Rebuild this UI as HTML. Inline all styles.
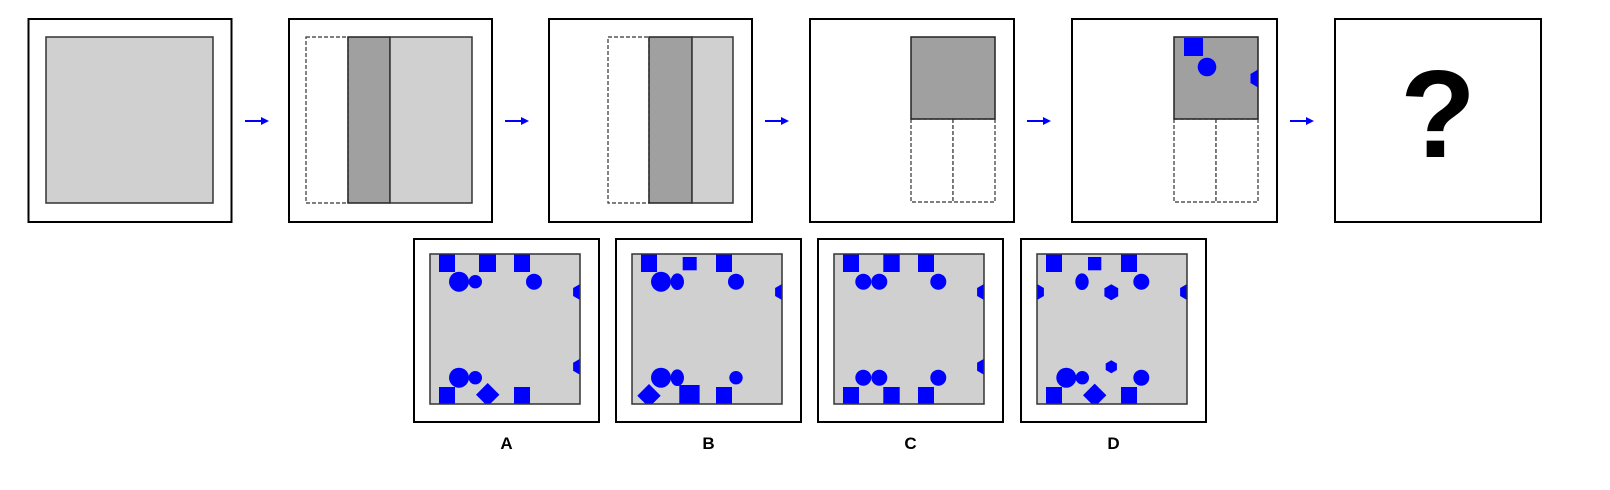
<!DOCTYPE html>
<html><head><meta charset="utf-8"><style>
html,body{margin:0;padding:0;background:#fff;}
svg{display:block;}
text{font-family:"Liberation Sans",sans-serif;font-weight:bold;}
</style></head><body>
<svg width="1610" height="490" viewBox="0 0 1610 490">
<defs>
<clipPath id="ci"><rect x="0" y="0" width="150" height="150"/></clipPath>
<marker id="ah" markerWidth="4" markerHeight="4" refX="2" refY="2" orient="auto"><path d="M0,0 L4,2 L0,4z" fill="#00f"/></marker>
</defs>
<g stroke-width="2">
<!-- panel 1 -->
<g>
<rect x="28.5" y="19" width="203" height="203" fill="#fff" stroke="#000"/>
<rect x="46" y="37" width="167" height="166" fill="#d0d0d0" stroke="#333" stroke-width="1.5"/>
</g>
<!-- panel 2 -->
<g>
<rect x="289" y="19" width="203" height="203" fill="#fff" stroke="#000"/>
<rect x="306" y="37" width="42" height="166" fill="#fff" stroke="#333" stroke-width="1.2" stroke-dasharray="4,2"/>
<rect x="348" y="37" width="42" height="166" fill="#a0a0a0" stroke="#222" stroke-width="1.5"/>
<rect x="390" y="37" width="82" height="166" fill="#d0d0d0" stroke="#333" stroke-width="1.5"/>
</g>
<!-- panel 3 -->
<g>
<rect x="549" y="19" width="203" height="203" fill="#fff" stroke="#000"/>
<rect x="608" y="37" width="41" height="166" fill="#fff" stroke="#333" stroke-width="1.2" stroke-dasharray="4,2"/>
<rect x="649" y="37" width="43" height="166" fill="#a0a0a0" stroke="#222" stroke-width="1.5"/>
<rect x="692" y="37" width="41" height="166" fill="#d0d0d0" stroke="#333" stroke-width="1.5"/>
</g>
<!-- panel 4 -->
<g>
<rect x="810" y="19" width="204" height="203" fill="#fff" stroke="#000"/>
<rect x="911" y="119" width="42" height="83" fill="#fff" stroke="#333" stroke-width="1.2" stroke-dasharray="4,2"/>
<rect x="953" y="119" width="42" height="83" fill="#fff" stroke="#333" stroke-width="1.2" stroke-dasharray="4,2"/>
<rect x="911" y="37" width="84" height="82" fill="#a0a0a0" stroke="#222" stroke-width="1.5"/>
</g>
<!-- panel 5 -->
<g>
<rect x="1072" y="19" width="205" height="203" fill="#fff" stroke="#000"/>
<rect x="1174" y="119" width="42" height="83" fill="#fff" stroke="#333" stroke-width="1.2" stroke-dasharray="4,2"/>
<rect x="1216" y="119" width="42" height="83" fill="#fff" stroke="#333" stroke-width="1.2" stroke-dasharray="4,2"/>
<rect x="1174" y="37" width="84" height="82" fill="#a0a0a0" stroke="#222" stroke-width="1.5"/>
<rect x="1184" y="38" width="19" height="18" fill="#00f" stroke="none"/>
<circle cx="1207" cy="67" r="9.3" fill="#00f" stroke="none"/>
<path d="M1258,69.5 L1250.5,74 L1250.5,83 L1258,87.5z" fill="#00f" stroke="none"/>
</g>
<!-- panel 6 -->
<g>
<rect x="1335" y="19" width="206" height="203" fill="#fff" stroke="#000"/>
<text x="1438" y="157" font-size="124" text-anchor="middle" fill="#000" stroke="none">?</text>
</g>
</g>
<!-- arrows -->
<g stroke="#00f" stroke-width="2" marker-end="url(#ah)">
<line x1="245" y1="121" x2="265" y2="121"/>
<line x1="505" y1="121" x2="525" y2="121"/>
<line x1="765" y1="121" x2="785" y2="121"/>
<line x1="1027" y1="121" x2="1047" y2="121"/>
<line x1="1290" y1="121" x2="1310" y2="121"/>
</g>
<g id="opts"></g>
</svg>
<script>
const NS='http://www.w3.org/2000/svg';
const optX=[414,616,818,1021];
const labels=['A','B','C','D'];
function hex(cx,cy,r){let p=[];for(let i=0;i<6;i++){const a=Math.PI/180*(60*i-90);p.push((cx+r*Math.cos(a)).toFixed(1)+','+(cy+r*Math.sin(a)).toFixed(1));}return p.join(' ');}
const shapes=[
 [['r',9,0,16,18],['r',49,0,17,18],['r',84,0,16,18],['c',29,27.7,10,10],['c',45.3,27.7,6.7,6.7],['c',104,27.7,8,8],['h',150,38,8],
  ['c',29,123.7,10,10],['c',45.3,123.7,6.7,6.7],['h',150,112.7,8],['r',9,133,16,17],['d',57.7,140.7,11.7],['r',84,133,16,17]],
 [['r',9,0,16,18],['r',50.7,3,14,13.3],['r',84,0,16,18],['c',29,27.7,10,10],['c',45.3,27.7,6.7,8.3],['c',104,27.7,8,8],['h',150,38,8],
  ['c',29,123.7,10,10],['c',45.3,123.7,6.7,8.3],['c',104,123.7,6.7,6.7],['d',17,141.7,11.7],['r',47.3,131,20.3,19],['r',84,133,16,17]],
 [['r',9,0,16,18],['r',49.3,0,16.4,18],['r',84,0,16,18],['c',29.3,27.7,8,8],['c',45.3,27.7,8,8],['c',104.3,27.7,8,8],['h',150,38,8],
  ['c',29.3,123.7,8,8],['c',45.3,123.7,8,8],['c',104.3,123.7,8,8],['h',150,112.7,8],['r',9,133,16,17],['r',49.3,133,16.4,17],['r',84,133,16,17]],
 [['r',9,0,16,18],['r',51,3,13.3,13.3],['r',84,0,16,18],['c',45,27.7,6.7,8.3],['h',74.3,38.3,8],['c',104.3,27.7,8,8],['h',0,38,8],['h',150,38,8],['h',-6,108,7],
  ['c',29.3,123.7,10,10],['c',45.3,123.7,6.7,6.7],['h',74.3,112.7,6.5],['c',104.3,123.7,8,8],['r',9,133,16,17],['d',57.7,141.3,11.7],['r',84,133,16,17]]
];
const root=document.getElementById('opts');
optX.forEach((ox,i)=>{
 const g=document.createElementNS(NS,'g');
 
 
 g.innerHTML=`<rect x="${ox}" y="239" width="185" height="183" fill="#fff" stroke="#000" stroke-width="2"/>`+
  `<rect x="${ox+16}" y="254" width="150" height="150" fill="#d0d0d0"/>`;
 const ig=document.createElementNS(NS,'g');
 ig.setAttribute('transform',`translate(${ox+16},254)`);
 ig.setAttribute('clip-path','url(#ci)');
 let s='';
 shapes[i].forEach(sh=>{
  if(sh[0]=='r')s+=`<rect x="${sh[1]}" y="${sh[2]}" width="${sh[3]}" height="${sh[4]}" fill="#00f"/>`;
  else if(sh[0]=='c')s+=`<ellipse cx="${sh[1]}" cy="${sh[2]}" rx="${sh[3]}" ry="${sh[4]}" fill="#00f"/>`;
  else if(sh[0]=='h')s+=`<polygon points="${hex(sh[1],sh[2],sh[3])}" fill="#00f"/>`;
  else if(sh[0]=='d'){const x=sh[1],y=sh[2],r=sh[3];s+=`<polygon points="${x},${y-r} ${x+r},${y} ${x},${y+r} ${x-r},${y}" fill="#00f"/>`;}
 });
 ig.innerHTML=s;
 g.appendChild(ig);
 const br=document.createElementNS(NS,'rect');
 br.setAttribute('x',ox+16);br.setAttribute('y',254);br.setAttribute('width',150);br.setAttribute('height',150);
 br.setAttribute('fill','none');br.setAttribute('stroke','#333');br.setAttribute('stroke-width','1.5');
 
 
 g.appendChild(br);
 const t=document.createElementNS(NS,'text');
 t.setAttribute('x',ox+92.5);t.setAttribute('y',449);t.setAttribute('text-anchor','middle');t.setAttribute('font-size','17');
 
 
 t.textContent=labels[i];
 g.appendChild(t);
 root.appendChild(g);
});
</script>
</body></html>
